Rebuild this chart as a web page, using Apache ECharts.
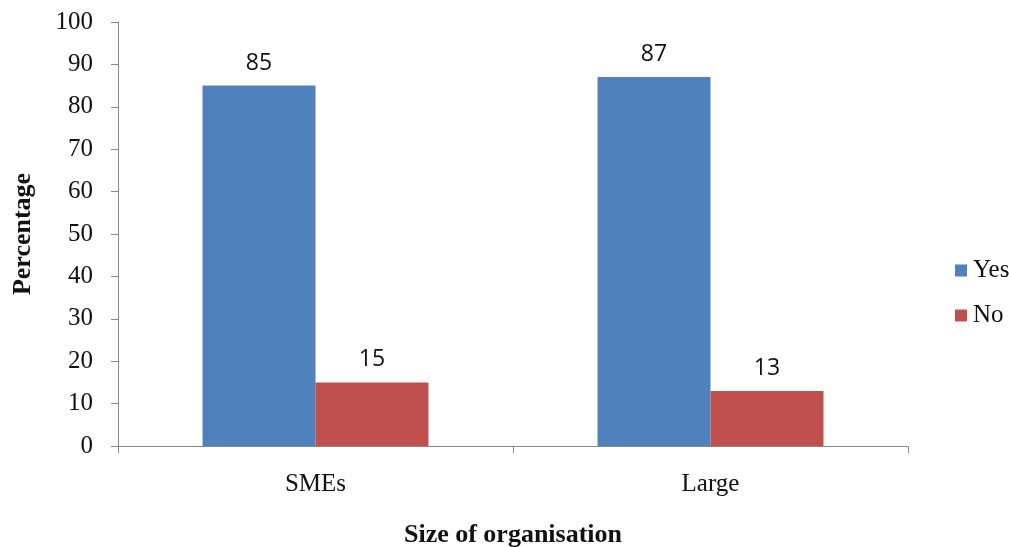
<!DOCTYPE html>
<html><head><meta charset="utf-8">
<script src="https://cdn.jsdelivr.net/npm/echarts@6/dist/echarts.min.js"></script>
<style>html,body{margin:0;padding:0;background:#fff}#c{width:1009px;height:547px}</style>
</head><body><div id="c"></div>
<script>
const categories = ['SMEs', 'Large'];
const yesValues = [85, 87];
const noValues = [15, 13];
const seriesNames = ['Yes', 'No'];
const chart = echarts.init(document.getElementById('c'));
const serif = '"Liberation Serif", "DejaVu Serif", serif';
const lbl = {show: true, position: 'top', distance: 11, fontFamily: '"Open Sans", "Liberation Sans", sans-serif', fontSize: 23, color: '#111'};
chart.setOption({
  animation: false,
  grid: {left: 118, right: 101, top: 22, bottom: 101, containLabel: false, outerBoundsMode: 'none'},
  legend: {
    orient: 'vertical', left: 950, top: 253, itemGap: 20,
    itemWidth: 12, itemHeight: 12, icon: 'rect',
    textStyle: {fontFamily: serif, fontSize: 25, lineHeight: 25, color: '#111', padding: [0,0,0,1]},
    data: seriesNames
  },
  xAxis: {
    type: 'category', data: categories,
    axisLine: {lineStyle: {color: '#888'}},
    axisTick: {show: true, length: 7, lineStyle: {color: '#888'}},
    axisLabel: {fontFamily: serif, fontSize: 25, color: '#111', margin: 26},
    name: 'Size of organisation', nameLocation: 'middle', nameGap: 76,
    nameTextStyle: {fontFamily: serif, fontSize: 26, fontWeight: 'bold', color: '#111'}
  },
  yAxis: {
    type: 'value', min: 0, max: 100, interval: 10,
    axisLine: {show: true, lineStyle: {color: '#888'}},
    axisTick: {show: true, length: 7, lineStyle: {color: '#888'}},
    splitLine: {show: false},
    axisLabel: {fontFamily: serif, fontSize: 25, color: '#111', margin: 25},
    name: 'Percentage', nameLocation: 'middle', nameGap: 82,
    nameTextStyle: {fontFamily: serif, fontSize: 26, fontWeight: 'bold', color: '#111'}
  },
  series: [
    {name: seriesNames[0], type: 'bar', data: yesValues, barGap: '0%', barCategoryGap: '42.8%', itemStyle: {color: '#4F81BD'}, label: lbl},
    {name: seriesNames[1], type: 'bar', data: noValues, itemStyle: {color: '#C0504D'}, label: lbl}
  ]
});
</script></body></html>
